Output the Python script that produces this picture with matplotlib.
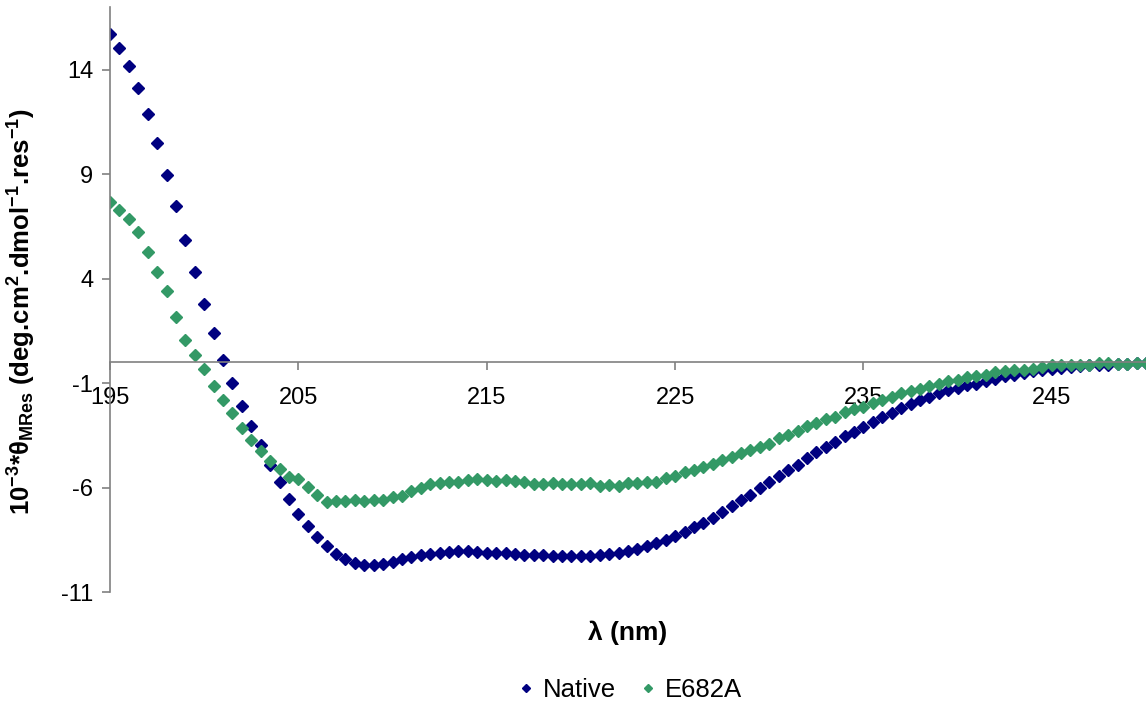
import numpy as np
import matplotlib
matplotlib.use("Agg")
import matplotlib.pyplot as plt

# wavelength grid (nm), one reading every 0.5 nm
wavelength = np.arange(195, 250.5, 0.5)

# 10^-3 * theta_MRes
native = [
    15.74, 15.06, 14.19, 13.15, 11.90, 10.51, 8.96, 7.51, 5.84, 4.32,
    2.80, 1.41, 0.13, -0.99, -2.10, -3.03, -3.94, -4.90, -5.74, -6.53,
    -7.25, -7.85, -8.36, -8.79, -9.16, -9.42, -9.60, -9.69, -9.71, -9.63,
    -9.55, -9.42, -9.33, -9.23, -9.17, -9.12, -9.08, -9.03, -9.03, -9.07,
    -9.11, -9.12, -9.14, -9.15, -9.20, -9.22, -9.23, -9.25, -9.28, -9.28,
    -9.28, -9.25, -9.22, -9.16, -9.11, -9.02, -8.91, -8.78, -8.65, -8.49,
    -8.30, -8.13, -7.89, -7.68, -7.43, -7.15, -6.88, -6.58, -6.33, -6.01,
    -5.74, -5.44, -5.14, -4.90, -4.59, -4.29, -4.05, -3.80, -3.54, -3.32,
    -3.08, -2.84, -2.61, -2.41, -2.19, -1.99, -1.82, -1.63, -1.47, -1.32,
    -1.21, -1.10, -1.01, -0.91, -0.78, -0.67, -0.59, -0.49, -0.43, -0.35,
    -0.30, -0.27, -0.22, -0.19, -0.14, -0.11, -0.11, -0.08, -0.06, -0.05,
    -0.03,
]

e682a = [
    7.69, 7.28, 6.88, 6.25, 5.29, 4.33, 3.43, 2.17, 1.06, 0.37,
    -0.31, -1.12, -1.82, -2.42, -3.14, -3.70, -4.22, -4.71, -5.11, -5.46,
    -5.57, -5.97, -6.34, -6.69, -6.61, -6.61, -6.58, -6.64, -6.58, -6.56,
    -6.45, -6.37, -6.13, -6.02, -5.84, -5.77, -5.74, -5.73, -5.63, -5.60,
    -5.65, -5.68, -5.65, -5.68, -5.73, -5.82, -5.82, -5.77, -5.84, -5.82,
    -5.84, -5.77, -5.90, -5.87, -5.90, -5.79, -5.77, -5.73, -5.70, -5.55,
    -5.42, -5.25, -5.14, -5.01, -4.84, -4.68, -4.53, -4.33, -4.20, -4.05,
    -3.88, -3.64, -3.46, -3.29, -3.03, -2.89, -2.73, -2.60, -2.36, -2.25,
    -2.12, -1.95, -1.78, -1.63, -1.48, -1.39, -1.26, -1.15, -1.02, -0.91,
    -0.83, -0.72, -0.67, -0.59, -0.48, -0.40, -0.38, -0.35, -0.30, -0.22,
    -0.14, -0.14, -0.14, -0.11, -0.11, -0.03, -0.03, -0.06, -0.08, -0.05,
    -0.03,
]

x_ticks = [195, 205, 215, 225, 235, 245]
y_ticks = [-11, -6, -1, 4, 9, 14]

plt.rcParams['font.family'] = ['Liberation Sans', 'DejaVu Sans']
plt.rcParams['axes.unicode_minus'] = False
plt.rcParams['mathtext.fontset'] = 'custom'
plt.rcParams['mathtext.rm'] = 'Liberation Sans:bold'
plt.rcParams['mathtext.it'] = 'Liberation Sans:bold'
plt.rcParams['mathtext.bf'] = 'Liberation Sans:bold'

fig = plt.figure(figsize=(11.46, 7.04), dpi=100)
ax = fig.add_axes([0.096, 0.1587, 0.904, 0.831])

ax.plot(wavelength, native, linestyle='none', marker='D', markersize=6.3,
        color='#000080', label='Native')
ax.plot(wavelength, e682a, linestyle='none', marker='D', markersize=6.3,
        color='#339966', label='E682A')

ax.set_xlim(195, 250)
ax.set_ylim(-11, 17)
ax.set_xticks(x_ticks)
ax.set_yticks(y_ticks)

# x axis crosses at zero, like the spreadsheet original
ax.spines['bottom'].set_position(('data', 0))
ax.spines['top'].set_visible(False)
ax.spines['right'].set_visible(False)
for side in ['bottom', 'left']:
    ax.spines[side].set_color('#808080')
    ax.spines[side].set_linewidth(1.2)
ax.tick_params(axis='both', colors='#808080', labelcolor='black',
               labelsize=17, length=6, width=1.2, direction='out')
ax.tick_params(axis='x', pad=12)
ax.tick_params(axis='y', pad=6)

ax.set_ylabel(r'10$^{-3}$*θ$_{MRes}$ (deg.cm$^{2}$.dmol$^{-1}$.res$^{-1}$)',
              fontsize=18.5, fontweight='bold', va='center', ha='center')
ax.yaxis.set_label_coords(-0.085, 0.48)
ax.text(0.5, -0.0696, 'λ (nm)', transform=ax.transAxes, ha='center',
        va='center', fontsize=19, fontweight='bold')

ax.legend(loc='center', bbox_to_anchor=(0.5, -0.167), ncol=2, frameon=False,
          fontsize=18.5, markerscale=0.7, handletextpad=0.2,
          columnspacing=0.8, handlelength=0.9)

fig.savefig('out.png', dpi=100)
